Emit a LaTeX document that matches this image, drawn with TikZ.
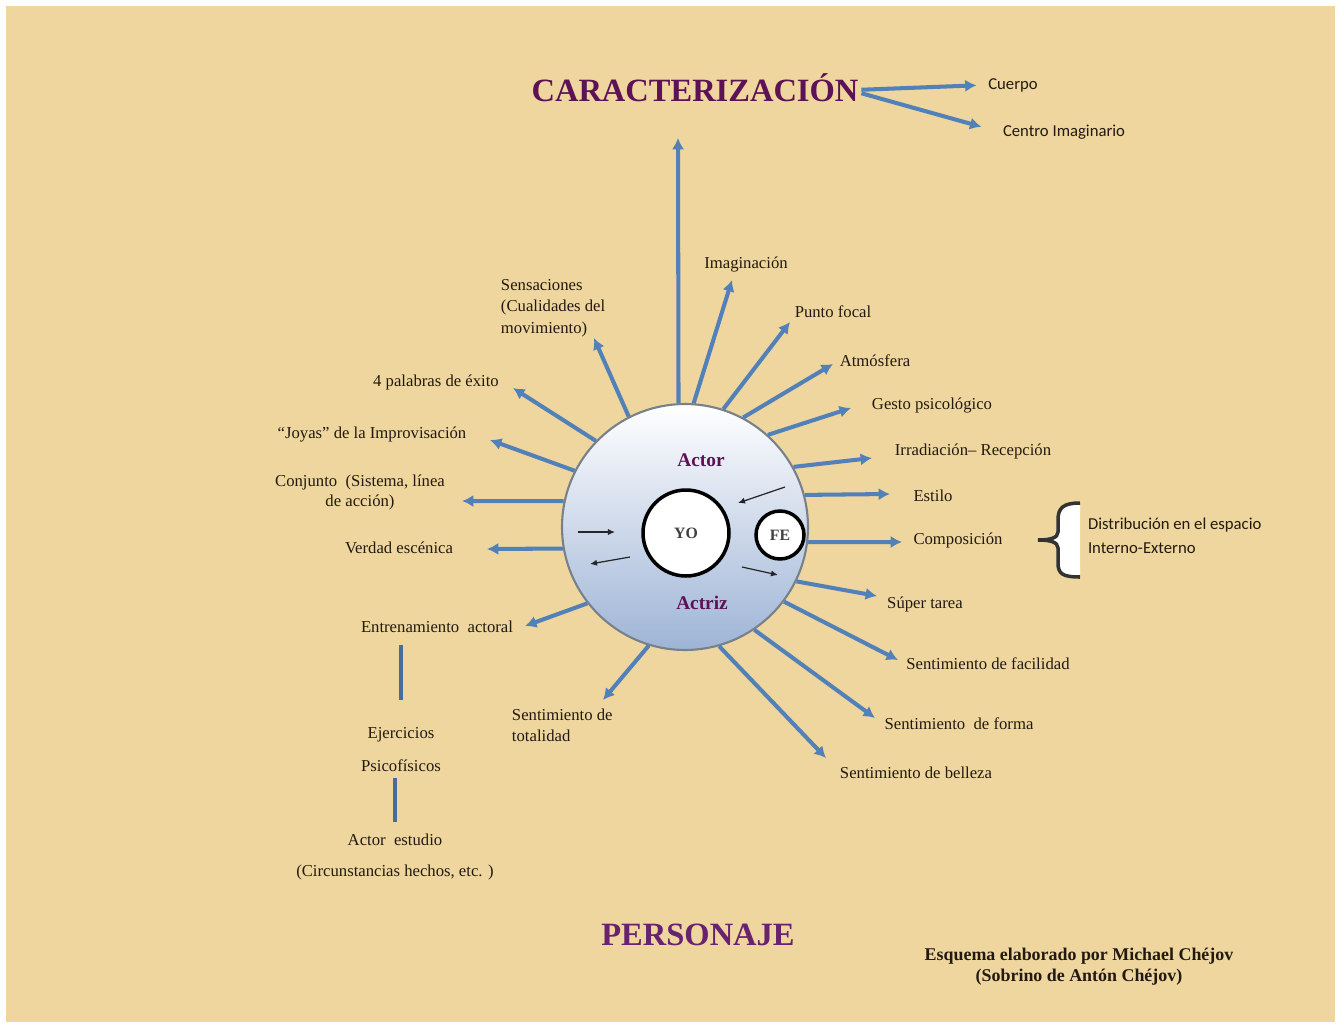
\documentclass[tikz,border=0pt]{standalone}
\usepackage{fontspec}
\setmainfont{Liberation Serif}
\newfontfamily\calibri{Carlito}
\usepackage{tikz}
\usetikzlibrary{arrows.meta}
\definecolor{paper}{RGB}{238,214,158}
\definecolor{rayblue}{RGB}{82,128,184}
\definecolor{ink}{RGB}{34,26,16}
\definecolor{plum}{RGB}{92,18,84}
\definecolor{orchid}{RGB}{104,34,112}
\definecolor{globe}{RGB}{158,180,214}
\definecolor{rim}{RGB}{120,128,138}

\tikzset{
  lbl/.style={font=\fontsize{9.5}{12}\selectfont, text=ink, inner sep=1.5pt},
  sans/.style={font=\calibri\fontsize{9.5}{13.7}\selectfont, text=ink, inner sep=1.5pt},
  headline/.style={font=\bfseries\fontsize{18.5}{22}\selectfont, inner sep=1.5pt},
  beam/.style={draw=rayblue, line width=2.3pt, -{Latex[length=6.5pt,width=7pt]}},
  stem/.style={draw=rayblue!85!black, line width=2.6pt},
  dart/.style={draw=black!85, line width=0.7pt, -{Latex[length=4pt,width=3.5pt]}},
  core/.style={circle, draw=rim, line width=1.2pt, minimum size=4.92cm, inner sep=0pt,
               top color=white, bottom color=globe},
  inner/.style={circle, draw=black, line width=2pt, fill=white, inner sep=0pt,
                font=\bfseries\fontsize{9}{10}\selectfont, text=black!75},
  role/.style={font=\bfseries\fontsize{11}{13}\selectfont, text=plum}
}

\begin{document}
\begin{tikzpicture}[x=0.02cm, y=-0.02cm]
  \useasboundingbox (0,0) rectangle (1342,1028);
  \fill[white] (0,0) rectangle (1342,1028);
  \fill[paper] (6,6) rectangle (1335,1022);

  % top
  \node[headline, text=plum] (title) at (695,88) {CARACTERIZACIÓN};
  \node[sans] (cuerpo) at (1013,85) {Cuerpo};
  \node[sans] (centro) at (1064,132) {Centro Imaginario};
  \draw[beam, shorten >=5pt] ([yshift=-1pt]title.east) -- (cuerpo.west);
  \draw[beam, shorten >=11pt] ([yshift=-3pt]title.east) -- (centro.west);

  % the globe
  \node[core] (core) at (685,527) {};
  \node[inner, minimum size=1.72cm] (yo) at (686,533) {YO};
  \node[inner, minimum size=0.96cm] (fe) at (780,535) {FE};
  \node[role] (actor) at (701,460) {Actor};
  \node[role] (actriz) at (702,603) {Actriz};
  \draw[dart] (578,532) -- (615,532);
  \draw[dart] (630,557) -- (590,564);
  \draw[dart] (785,487) -- (738,503);
  \draw[dart] (742,567) -- (778,575);

  % right side
  \node[lbl] (imag) at (746,264) {Imaginación};
  \node[lbl] (focal) at (833,312) {Punto focal};
  \node[lbl] (atmos) at (875,361) {Atmósfera};
  \node[lbl] (gesto) at (932,405) {Gesto psicológico};
  \node[lbl] (irrad) at (973,451) {Irradiación– Recepción};
  \node[lbl] (estilo) at (933,496) {Estilo};
  \node[lbl] (compos) at (958,540) {Composición};
  \node[lbl] (super) at (925,604) {Súper tarea};
  \node[lbl] (facil) at (988,664) {Sentimiento de facilidad};
  \node[lbl] (forma) at (959,724) {Sentimiento \ de forma};
  \node[lbl] (belleza) at (916,773) {Sentimiento de belleza};
  \node[sans, anchor=west, align=left] (distrib) at (1085,536) {Distribución en el espacio\\Interno-Externo};

  \coordinate (tTop) at (678,138);
  \coordinate (tImag) at (732,280);
  \coordinate (tFocal) at (790,322);
  \coordinate (tAtmos) at (833,364);
  \coordinate (tGesto) at (851,408);
  \coordinate (tIrrad) at (872,458);
  \coordinate (tEstilo) at (890,494);
  \coordinate (tCompos) at (902,542);
  \coordinate (tSuper) at (877,596);
  \coordinate (tFacil) at (898,660);
  \coordinate (tForma) at (875,718);
  \coordinate (tBelleza) at (826,758);

  \draw[beam] (core.93) -- (tTop);
  \draw[beam] (core.86) -- (tImag);
  \draw[beam] (core.72.5) -- (tFocal);
  \draw[beam] (core.62) -- (tAtmos);
  \draw[beam] (core.48) -- (tGesto);
  \draw[beam] (core.29) -- (tIrrad);
  \draw[beam] (core.15.5) -- (tEstilo);
  \draw[beam] (core.-7) -- (tCompos);
  \draw[beam] (core.-26) -- (tSuper);
  \draw[beam] (core.-37.5) -- (tFacil);
  \draw[beam] (core.-56) -- (tForma);
  \draw[beam] (core.-74.5) -- (tBelleza);

  % brace
  \fill[white] (1080,503) .. controls (1063,503) and (1058,508) .. (1058,520) -- (1058,532)
    .. controls (1058,538) and (1050,540) .. (1038,540) .. controls (1050,540) and (1058,542) .. (1058,548)
    -- (1058,563) .. controls (1058,574) and (1063,577) .. (1080,577) -- cycle;
  \draw[black!80, line width=2pt] (1080,503) .. controls (1063,503) and (1058,508) .. (1058,520) -- (1058,532)
    .. controls (1058,538) and (1050,540) .. (1038,540) .. controls (1050,540) and (1058,542) .. (1058,548)
    -- (1058,563) .. controls (1058,574) and (1063,577) .. (1080,577);

  % left side
  \node[lbl, anchor=west, align=left, font=\fontsize{9.5}{12.2}\selectfont] (sensac) at (498,308)
    {Sensaciones\\(Cualidades del\\movimiento)};
  \node[lbl] (palab) at (436,382) {4 palabras de éxito};
  \node[lbl] (joyas) at (372,434) {“Joyas” de la Improvisación};
  \node[lbl, align=center, font=\fontsize{9.5}{11.4}\selectfont] (conj) at (360,492)
    {Conjunto \ (Sistema, línea\\de acción)};
  \node[lbl] (verdad) at (399,548) {Verdad escénica};
  \node[lbl] (entren) at (437,627) {Entrenamiento \ actoral};
  \node[lbl, anchor=west, align=left, font=\fontsize{9.5}{12}\selectfont] (total) at (509,725)
    {Sentimiento de\\totalidad};

  \coordinate (tSens) at (594,338);
  \coordinate (tPalab) at (513,388);
  \coordinate (tJoyas) at (490,440);
  \coordinate (tConj) at (462,501);
  \coordinate (tVerdad) at (487,549);
  \coordinate (tEntren) at (525,626);
  \coordinate (tTotal) at (603,700);

  \draw[beam] (core.117) -- (tSens);
  \draw[beam] (core.136) -- (tPalab);
  \draw[beam] (core.153.5) -- (tJoyas);
  \draw[beam] (core.168.5) -- (tConj);
  \draw[beam] (core.190) -- (tVerdad);
  \draw[beam] (core.218.5) -- (tEntren);
  \draw[beam] (core.-107) -- (tTotal);

  % training chain
  \node[lbl] (ejer) at (401,735) {Ejercicios};
  \node[lbl] (psico) at (401,766) {Psicofísicos};
  \node[lbl] (estudio) at (395,840) {Actor \ estudio};
  \node[lbl] (circ) at (395,872) {(Circunstancias hechos, etc. )};
  \draw[stem, shorten <=5pt, shorten >=14pt] (entren.south -| ejer) -- (ejer.north);
  \draw[stem, shorten <=2pt, shorten >=5pt] (psico.south -| estudio) -- (estudio.north);

  % bottom
  \node[headline, text=orchid] (personaje) at (698,935) {PERSONAJE};
  \node[lbl, align=center, font=\bfseries\fontsize{10.2}{12}\selectfont] (esquema) at (1079,967)
    {Esquema elaborado por Michael Chéjov\\(Sobrino de Antón Chéjov)};
\end{tikzpicture}
\end{document}
